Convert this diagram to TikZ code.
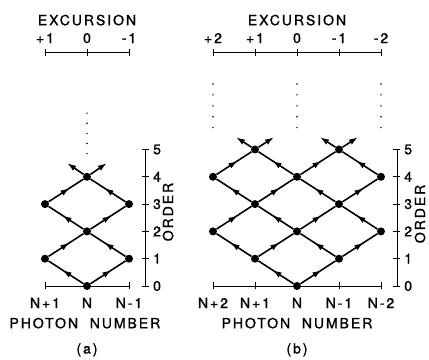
\documentclass[tikz,border=0pt]{standalone}
\usepackage{fontspec}
\setmainfont{TeX Gyre Heros}
\newfontfamily\lettering{TeX Gyre Heros}[LetterSpace=14, FakeBold=1.2]
\usetikzlibrary{arrows.meta, decorations.markings}

\tikzset{
  site/.style={circle, fill=black, inner sep=0pt, minimum size=8pt},
  hop/.style={line width=1.6pt, postaction={decorate},
    decoration={markings, mark=at position 0.6 with {\arrow{Latex[length=9pt,width=6pt]}}}},
  leak/.style={line width=1.6pt, -{Latex[length=9pt,width=6pt]}},
  scaleline/.style={line width=0.8pt},
  lbl/.style={font=\lettering\fontsize{14}{16}\selectfont, inner sep=0pt},
}

\begin{document}
\begin{tikzpicture}[x=42pt, y=27.3pt]
  \useasboundingbox (-2.0714,-2.7106) rectangle (8.1429,10.476);

  % (a) excursion scale
  \node[lbl] (exa) at (0,9.74) {EXCURSION};
  \node[lbl] (exa-p1) at (-1,9.08) {+1};
  \node[lbl] (exa-0) at (0,9.08) {0};
  \node[lbl] (exa-m1) at (1,9.08) {-1};
  \draw[scaleline] (-1,8.57) -- (1,8.57);
  \foreach \x in {-1,0,1}
    \draw[scaleline] (\x,8.57) ++(0,-3.5pt) -- ++(0,7pt);

  % (a) photon number scale
  \draw[scaleline] (-1,0) -- (1,0);
  \foreach \x in {-1,0,1}
    \draw[scaleline] (\x,0) ++(0,-3.5pt) -- ++(0,7pt);
  \node[lbl] (pha-p1) at (-1,-0.62) {N+1};
  \node[lbl] (pha-0) at (0,-0.62) {N};
  \node[lbl] (pha-m1) at (1,-0.62) {N-1};
  \node[lbl] (pha) at (-0.05,-1.36) {PHOTON\ \ NUMBER};
  \node[lbl] (capa) at (0,-2.34) {(a)};

  % (a) order scale
  \draw[scaleline] (1.40,0) -- (1.40,5);
  \foreach \k in {0,...,5} {
    \draw[scaleline] (1.40,\k) ++(-3.5pt,0) -- ++(7pt,0);
    \node[lbl, anchor=west] at (1.57,\k) {\k};
  }
  \node[lbl, rotate=90] (orda) at (1.93,2.71) {ORDER};

  % (a) lattice
  \node[site] (a0) at (0,0) {};
  \node[site] (a1l) at (-1,1) {};
  \node[site] (a1r) at (1,1) {};
  \node[site] (a2) at (0,2) {};
  \node[site] (a3l) at (-1,3) {};
  \node[site] (a3r) at (1,3) {};
  \node[site] (a4) at (0,4) {};
  \coordinate (a5l) at (-0.47,4.5);
  \coordinate (a5r) at (0.47,4.5);

  \draw[hop] (a0) -- (a1l);
  \draw[hop] (a0) -- (a1r);
  \draw[hop] (a1l) -- (a2);
  \draw[hop] (a1r) -- (a2);
  \draw[hop] (a2) -- (a3l);
  \draw[hop] (a2) -- (a3r);
  \draw[hop] (a3l) -- (a4);
  \draw[hop] (a3r) -- (a4);
  \draw[leak] (a4) -- (a5l);
  \draw[leak] (a4) -- (a5r);

  \foreach \k in {0,...,4}
    \fill (0,4.85+0.37*\k) circle (0.8pt);

  % (b) excursion scale
  \node[lbl] (exb) at (5,9.74) {EXCURSION};
  \node[lbl] (exb-p2) at (3,9.08) {+2};
  \node[lbl] (exb-p1) at (4,9.08) {+1};
  \node[lbl] (exb-0) at (5,9.08) {0};
  \node[lbl] (exb-m1) at (6,9.08) {-1};
  \node[lbl] (exb-m2) at (7,9.08) {-2};
  \draw[scaleline] (3,8.57) -- (7,8.57);
  \foreach \x in {3,...,7}
    \draw[scaleline] (\x,8.57) ++(0,-3.5pt) -- ++(0,7pt);

  % (b) photon number scale
  \draw[scaleline] (3,0) -- (7,0);
  \foreach \x in {3,...,7}
    \draw[scaleline] (\x,0) ++(0,-3.5pt) -- ++(0,7pt);
  \node[lbl] (phb-p2) at (3,-0.62) {N+2};
  \node[lbl] (phb-p1) at (4,-0.62) {N+1};
  \node[lbl] (phb-0) at (5,-0.62) {N};
  \node[lbl] (phb-m1) at (6,-0.62) {N-1};
  \node[lbl] (phb-m2) at (7,-0.62) {N-2};
  \node[lbl] (phb) at (5,-1.36) {PHOTON\ \ NUMBER};
  \node[lbl] (capb) at (5,-2.34) {(b)};

  % (b) order scale
  \draw[scaleline] (7.38,0) -- (7.38,5);
  \foreach \k in {0,...,5} {
    \draw[scaleline] (7.38,\k) ++(-3.5pt,0) -- ++(7pt,0);
    \node[lbl, anchor=west] at (7.55,\k) {\k};
  }
  \node[lbl, rotate=90] (ordb) at (7.93,2.64) {ORDER};

  % (b) lattice
  \node[site] (b0) at (5,0) {};
  \node[site] (b1l) at (4,1) {};
  \node[site] (b1r) at (6,1) {};
  \node[site] (b2l) at (3,2) {};
  \node[site] (b2c) at (5,2) {};
  \node[site] (b2r) at (7,2) {};
  \node[site] (b3l) at (4,3) {};
  \node[site] (b3r) at (6,3) {};
  \node[site] (b4l) at (3,4) {};
  \node[site] (b4c) at (5,4) {};
  \node[site] (b4r) at (7,4) {};
  \node[site] (b5l) at (4,5) {};
  \node[site] (b5r) at (6,5) {};
  \coordinate (b6ll) at (3.55,5.45);
  \coordinate (b6lr) at (4.45,5.45);
  \coordinate (b6rl) at (5.55,5.45);
  \coordinate (b6rr) at (6.45,5.45);

  \draw[hop] (b0) -- (b1l);
  \draw[hop] (b0) -- (b1r);
  \draw[hop] (b1l) -- (b2l);
  \draw[hop] (b1l) -- (b2c);
  \draw[hop] (b1r) -- (b2c);
  \draw[hop] (b1r) -- (b2r);
  \draw[hop] (b2l) -- (b3l);
  \draw[hop] (b2c) -- (b3l);
  \draw[hop] (b2c) -- (b3r);
  \draw[hop] (b2r) -- (b3r);
  \draw[hop] (b3l) -- (b4l);
  \draw[hop] (b3l) -- (b4c);
  \draw[hop] (b3r) -- (b4c);
  \draw[hop] (b3r) -- (b4r);
  \draw[hop] (b4l) -- (b5l);
  \draw[hop] (b4c) -- (b5l);
  \draw[hop] (b4c) -- (b5r);
  \draw[hop] (b4r) -- (b5r);
  \draw[leak] (b5l) -- (b6ll);
  \draw[leak] (b5l) -- (b6lr);
  \draw[leak] (b5r) -- (b6rl);
  \draw[leak] (b5r) -- (b6rr);

  \foreach \x in {3,5,7}
    \foreach \k in {0,...,4}
      \fill (\x,5.8+0.4*\k) circle (0.8pt);
\end{tikzpicture}
\end{document}
